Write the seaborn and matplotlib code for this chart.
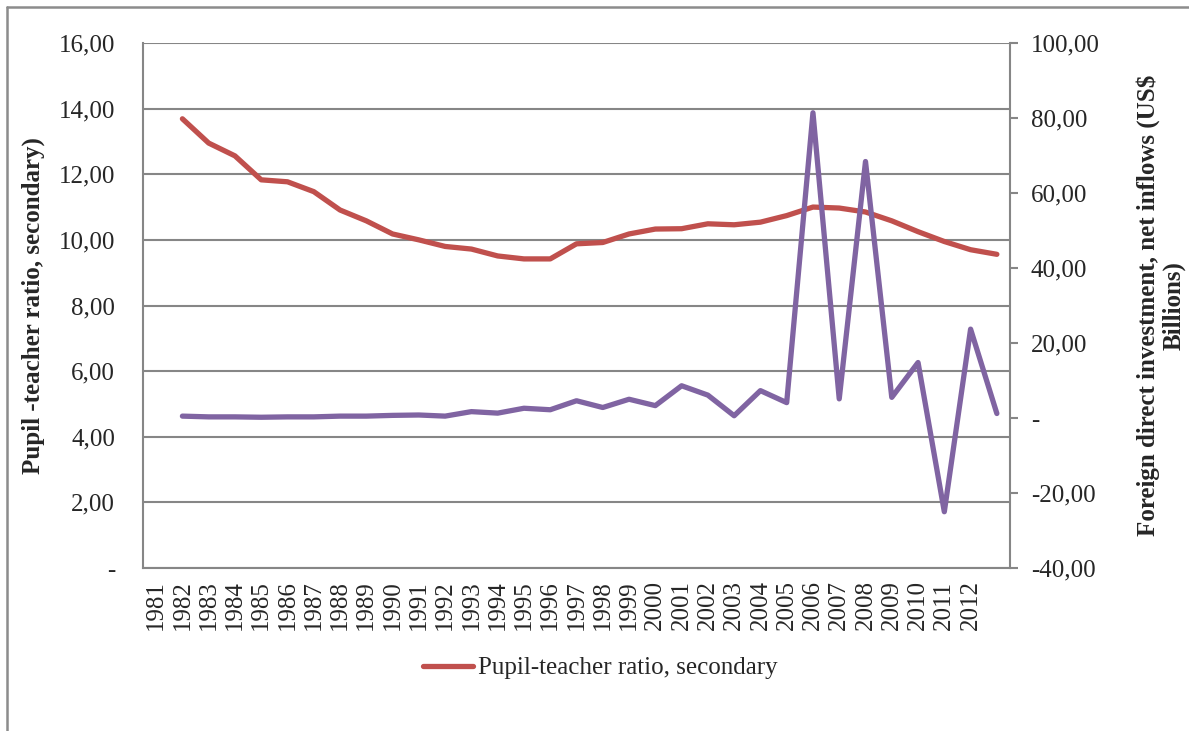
import matplotlib
matplotlib.use("Agg")
import matplotlib.pyplot as plt
from matplotlib.ticker import FuncFormatter
from matplotlib.lines import Line2D
import numpy as np
import pandas as pd
import seaborn as sns

# axis labels shown under the chart (the series sit one slot to the right, as in the source)
year_labels = [str(y) for y in range(1981, 2013)]

# pupil-teacher ratio, secondary (left axis)
pupil_teacher = [13.69, 12.95, 12.56, 11.83, 11.77, 11.47, 10.91, 10.58, 10.18, 10.00,
                 9.80, 9.72, 9.51, 9.42, 9.42, 9.88, 9.92, 10.18, 10.33, 10.34,
                 10.49, 10.46, 10.54, 10.74, 11.00, 10.97, 10.85, 10.58, 10.25, 9.95,
                 9.70, 9.56]

# foreign direct investment, net inflows, US$ billions (right axis)
fdi = [0.5, 0.3, 0.3, 0.2, 0.3, 0.3, 0.5, 0.5, 0.7, 0.8,
       0.5, 1.7, 1.3, 2.6, 2.2, 4.6, 2.8, 5.0, 3.3, 8.6,
       6.1, 0.6, 7.3, 4.1, 81.4, 5.1, 68.4, 5.5, 14.8, -25.0,
       23.7, 1.2]

RED = "#C0504D"
PURPLE = "#8064A2"
GRID = "#868686"


def fmt(v, pos):
    if abs(v) < 1e-9:
        return "-"
    return f"{v:.2f}".replace(".", ",")


def main():
    sns.set_style("white")
    plt.rcParams["font.family"] = ["Liberation Serif", "DejaVu Serif"]

    df = pd.DataFrame({"pos": np.arange(1, len(pupil_teacher) + 1),
                       "ratio": pupil_teacher, "fdi": fdi})

    fig = plt.figure(figsize=(11.89, 7.31), dpi=100)
    ax = fig.add_axes([143 / 1189, 1 - 568 / 731, (1010 - 143) / 1189, (568 - 43) / 731])

    sns.lineplot(data=df, x="pos", y="ratio", ax=ax, color=RED, linewidth=3.8,
                 solid_capstyle="round", solid_joinstyle="round", zorder=3)

    ax.set_ylim(0, 16)
    ax.set_yticks(np.arange(0, 17, 2))
    ax.yaxis.set_major_formatter(FuncFormatter(fmt))
    ax.set_xlim(-0.5, 32.5)
    ax.set_xticks(np.arange(len(year_labels)))
    ax.set_xticklabels(year_labels, rotation=90)
    ax.set_xlabel("")
    ax.set_ylabel("Pupil -teacher ratio, secondary)", fontsize=18, fontweight="bold", labelpad=10)
    ax.tick_params(axis="y", length=0, pad=20, labelsize=18)
    ax.tick_params(axis="x", length=0, pad=9, labelsize=18)
    ax.grid(axis="y", color=GRID, linewidth=1.5)
    ax.grid(axis="x", visible=False)
    ax.set_axisbelow(True)
    for side in ["left", "bottom"]:
        ax.spines[side].set_color(GRID)
        ax.spines[side].set_linewidth(1.5)
    ax.spines["top"].set_visible(False)
    ax.spines["right"].set_visible(False)

    ax2 = ax.twinx()
    sns.lineplot(data=df, x="pos", y="fdi", ax=ax2, color=PURPLE, linewidth=3.8,
                 solid_capstyle="round", solid_joinstyle="round", zorder=3)
    ax2.set_ylim(-40, 100)
    ax2.set_yticks(np.arange(-40, 101, 20))
    ax2.yaxis.set_major_formatter(FuncFormatter(fmt))
    ax2.set_ylabel("Foreign direct investment, net inflows (US\\$\nBillions)",
                   fontsize=18, fontweight="bold", labelpad=26, linespacing=1.15)
    ax2.tick_params(axis="y", length=6, width=1.5, color=GRID, direction="out", pad=9, labelsize=18)
    ax2.grid(False)
    for side in ["left", "bottom", "top"]:
        ax2.spines[side].set_visible(False)
    ax2.spines["right"].set_color(GRID)
    ax2.spines["right"].set_linewidth(1.5)

    # legend shows only the ratio series
    handle = Line2D([0], [0], color=RED, linewidth=3.8, solid_capstyle="round")
    fig.legend([handle], ["Pupil-teacher ratio, secondary"], loc="center",
               bbox_to_anchor=(0.505, 1 - 668 / 731), frameon=False, fontsize=18,
               handlelength=2.0, handletextpad=0.2)

    # outer chart border (top and left edges visible in the crop)
    fig.add_artist(Line2D([7 / 1189, 7 / 1189], [0, 1 - 7 / 731], transform=fig.transFigure,
                          color="#8C8C8C", linewidth=1.8))
    fig.add_artist(Line2D([7 / 1189, 1], [1 - 7 / 731, 1 - 7 / 731], transform=fig.transFigure,
                          color="#8C8C8C", linewidth=1.8))

    fig.savefig("out.png", dpi=100)


if __name__ == "__main__":
    main()
